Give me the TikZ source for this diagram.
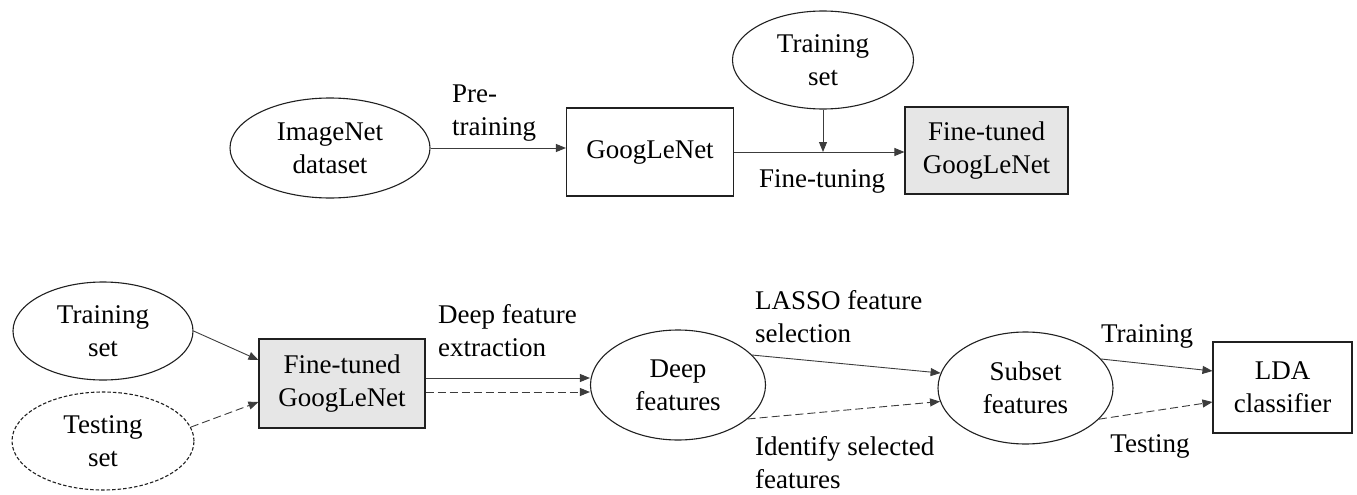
\documentclass[tikz,border=0pt]{standalone}
\usepackage{fontspec}
\setmainfont{Liberation Serif}
\newfontfamily\tnrfont{Liberation Serif}
\usetikzlibrary{shapes.geometric,arrows.meta,calc}
\definecolor{edgegray}{HTML}{3C3C3C}
\definecolor{shapeline}{HTML}{202020}
\definecolor{boxfill}{HTML}{E6E6E6}
\begin{document}
\begin{tikzpicture}[x=1pt,y=-1pt,
  every node/.style={font=\tnrfont\fontsize{27}{33}\selectfont, inner sep=0pt, align=center, text=black},
  ell/.style={ellipse, draw=shapeline, line width=1.1pt},
  dashell/.style={ellipse, draw=shapeline, line width=1.1pt, dash pattern=on 3.5pt off 2pt},
  plainbox/.style={rectangle, draw=shapeline, line width=1.1pt},
  graybox/.style={rectangle, draw=shapeline, line width=1.1pt, fill=boxfill},
  conn/.style={draw=edgegray, line width=0.9pt, -{Triangle[length=10pt,width=8pt]}},
  dconn/.style={conn, dash pattern=on 8pt off 4pt},
  lbl/.style={anchor=north west, align=left}
]
\useasboundingbox (0,0) rectangle (1357,495);

% top row
\node[ell, minimum width=200, minimum height=100] (imgnet) at (330,148) {ImageNet\\dataset};
\node[plainbox, minimum width=167, minimum height=88] (gnet) at (650,152) {GoogLeNet};
\node[ell, minimum width=181, minimum height=98] (trtop) at (823,60) {Training\\set};
\node[graybox, minimum width=163, minimum height=87] (fttop) at (986.5,150.5) {Fine-tuned\\GoogLeNet};

\draw[conn] (imgnet.east) -- (imgnet.east -| gnet.west);
\draw[conn] (gnet.east) -- (gnet.east -| fttop.west);
\draw[conn] (trtop.south) -- (trtop.south |- gnet.east);

\node[lbl] (lpre) at (452,85) {Pre-\\training};
\node[anchor=base] (lft) at (822,187) {Fine-tuning};

% bottom row
\node[ell, minimum width=180, minimum height=98] (trb) at (103,331) {Training\\set};
\node[dashell, minimum width=182, minimum height=98] (teb) at (103,441) {Testing\\set};
\node[graybox, minimum width=166, minimum height=89] (ftb) at (342,383.5) {Fine-tuned\\GoogLeNet};
\node[ell, minimum width=175, minimum height=110] (deep) at (678,385) {Deep\\features};
\node[ell, minimum width=175, minimum height=112] (subset) at (1025.5,388) {Subset\\features};
\node[plainbox, minimum width=139, minimum height=91] (lda) at (1282.5,387.5) {LDA\\classifier};

\draw[conn] (trb.east) -- ([yshift=23.5]ftb.west);
\draw[dconn] (teb.9) -- ([yshift=-18.5]ftb.west);
\draw[conn] ([yshift=5.5]ftb.east) -- ([yshift=5.5]ftb.east -| deep.west);
\draw[dconn] ([yshift=-8.5]ftb.east) -- ([yshift=-8.5]ftb.east -| deep.west);
\draw[conn] (deep.22) -- (subset.170);
\draw[dconn] (deep.-26) -- (subset.189);
\draw[conn] (subset.21) -- ([yshift=16.5]lda.west);
\draw[dconn] (subset.-23) -- ([yshift=-14.5]lda.west);

\node[lbl] (ldfe) at (438,304.6) {Deep feature\\extraction};
\node[lbl] (llasso) at (755,290.6) {LASSO feature\\selection};
\node[lbl] (lident) at (755,436.6) {Identify selected\\features};
\node[anchor=base] (ltrain) at (1147,342) {Training};
\node[anchor=base] (ltest) at (1150,452) {Testing};
\end{tikzpicture}
\end{document}
